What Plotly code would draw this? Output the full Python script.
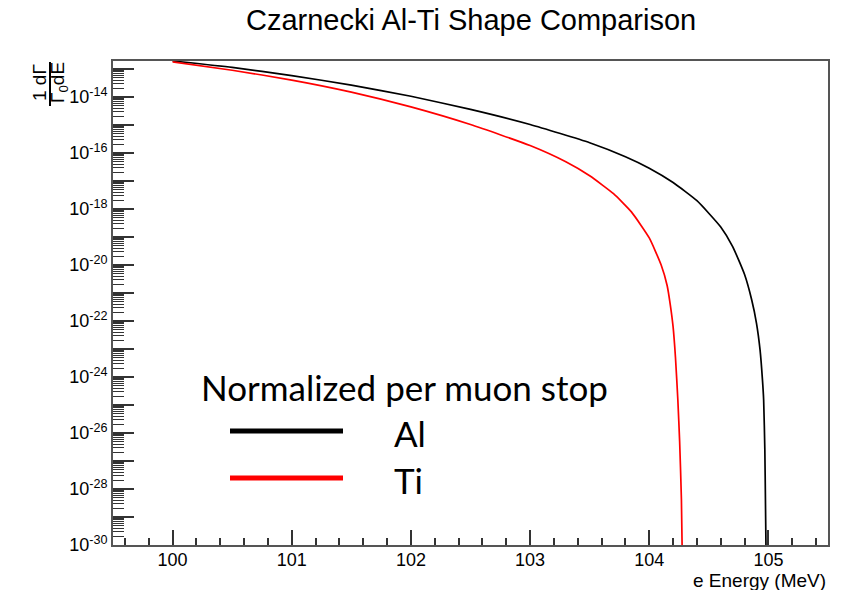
import numpy as np
import plotly.graph_objects as go

# ---- data (x in MeV, y as log10 of 1/Γ0 dΓ/dE) ----
al_energy = [100.0, 100.5, 101.0, 101.5, 102.0, 102.5, 103.0, 103.5, 103.8, 104.0,
             104.2, 104.4, 104.6, 104.7, 104.8, 104.86, 104.9, 104.93, 104.95, 104.96,
             104.97, 104.975, 104.982]
al_log10 = [-12.71, -12.94, -13.23, -13.57, -13.97, -14.44, -14.98, -15.63, -16.13, -16.54,
            -17.05, -17.70, -18.64, -19.34, -20.34, -21.25, -22.08, -23.04, -24.10, -24.82,
            -26.60, -28.39, -31.0]

ti_energy = [100.0, 100.5, 101.0, 101.5, 102.0, 102.5, 103.0, 103.3, 103.5, 103.7,
             103.85, 104.0, 104.1, 104.15, 104.176, 104.2, 104.22, 104.24, 104.255,
             104.27, 104.279]
ti_log10 = [-12.74, -13.04, -13.39, -13.82, -14.35, -14.98, -15.73, -16.31, -16.81, -17.45,
            -18.10, -19.03, -20.00, -20.73, -21.40, -22.20, -23.30, -24.82, -26.30,
            -28.39, -31.0]

x_ticks = [100, 101, 102, 103, 104, 105]
y_decades = list(range(-30, -12))
y_labels = [f"10<sup>{d}</sup>" if d % 2 == 0 else "" for d in y_decades]

title_text = "Czarnecki Al-Ti Shape Comparison"
x_title = "e Energy (MeV)"
legend_title = "Normalized per muon stop"
series_names = ["Al", "Ti"]
series_colors = ["#000000", "#ff0000"]

# ---- layout geometry (pixels) ----
W, H = 852, 590
L, R, T, B = 113, 828, 61, 545
pw, ph = R - L, B - T


def px(xp):
    return (xp - L) / pw


def py(yp):
    return (B - yp) / ph


fig = go.Figure()
fig.add_trace(go.Scatter(x=al_energy, y=10 ** np.array(al_log10), mode="lines",
                         name=series_names[0],
                         line=dict(color=series_colors[0], width=1.7, shape="spline", smoothing=0.5)))
fig.add_trace(go.Scatter(x=ti_energy, y=10 ** np.array(ti_log10), mode="lines",
                         name=series_names[1],
                         line=dict(color=series_colors[1], width=1.7, shape="spline", smoothing=0.5)))

axis_font = dict(family="Liberation Sans, Arial, sans-serif", size=18, color="black")

fig.update_layout(
    width=W, height=H,
    margin=dict(l=L, r=W - R, t=T, b=H - B),
    paper_bgcolor="white", plot_bgcolor="white",
    showlegend=False,
    xaxis=dict(range=[99.5, 105.5], tickmode="array", tickvals=x_ticks,
               ticks="inside", ticklen=15, tickwidth=1.5, tickcolor="#333",
               showline=True, linecolor="#555", linewidth=2, mirror=True,
               showgrid=False, zeroline=False, tickfont=axis_font,
               ticklabelstandoff=-3,
               minor=dict(dtick=0.2, tick0=100, ticks="inside", ticklen=7,
                          tickwidth=1.5, tickcolor="#333", showgrid=False)),
    yaxis=dict(type="log", range=[-30, -12.71], tickmode="array",
               tickvals=[10.0 ** d for d in y_decades], ticktext=y_labels,
               ticks="inside", ticklen=21, tickwidth=1.5, tickcolor="#333",
               showline=True, linecolor="#555", linewidth=2, mirror=True,
               showgrid=False, zeroline=False, tickfont=axis_font,
               minor=dict(tickmode="linear", dtick="D1", ticks="inside", ticklen=11,
                          tickwidth=1, tickcolor="#333", showgrid=False)),
)

annotations = [
    dict(text=title_text, x=0.5, y=py(20), xref="paper", yref="paper",
         showarrow=False, font=dict(family="Liberation Sans, Arial", size=29, color="black"),
         xanchor="center", yanchor="middle"),
    dict(text=x_title, x=1.0, y=py(580), xref="paper", yref="paper",
         showarrow=False, font=dict(family="Liberation Sans, Arial", size=19, color="black"),
         xanchor="right", yanchor="middle"),
    dict(text="1 dΓ", x=px(40), y=py(83), xref="paper", yref="paper", textangle=-90,
         showarrow=False, font=dict(family="Liberation Sans, Arial", size=19, color="black"),
         xanchor="center", yanchor="middle"),
    dict(text="Γ<sub>0</sub>dE", x=px(59), y=py(83), xref="paper", yref="paper", textangle=-90,
         showarrow=False, font=dict(family="Liberation Sans, Arial", size=19, color="black"),
         xanchor="center", yanchor="middle"),
    dict(text=legend_title, x=px(199), y=py(387), xref="paper", yref="paper",
         showarrow=False, font=dict(family="Lato, Carlito, sans-serif", size=35, color="black"),
         xanchor="left", yanchor="middle"),
]
legend_rows = [431, 478]
for name, color, yrow in zip(series_names, series_colors, legend_rows):
    annotations.append(dict(text=name, x=px(392), y=py(yrow + 2), xref="paper", yref="paper",
                            showarrow=False,
                            font=dict(family="Lato, Carlito, sans-serif", size=35, color="black"),
                            xanchor="left", yanchor="middle"))
    fig.add_shape(type="line", xref="paper", yref="paper",
                  x0=px(230), x1=px(343), y0=py(yrow), y1=py(yrow),
                  line=dict(color=color, width=5))

fig.add_shape(type="line", xref="paper", yref="paper",
              x0=px(50), x1=px(50), y0=py(62), y1=py(106),
              line=dict(color="black", width=2))
fig.update_layout(annotations=annotations)

fig.write_html("out.html")
